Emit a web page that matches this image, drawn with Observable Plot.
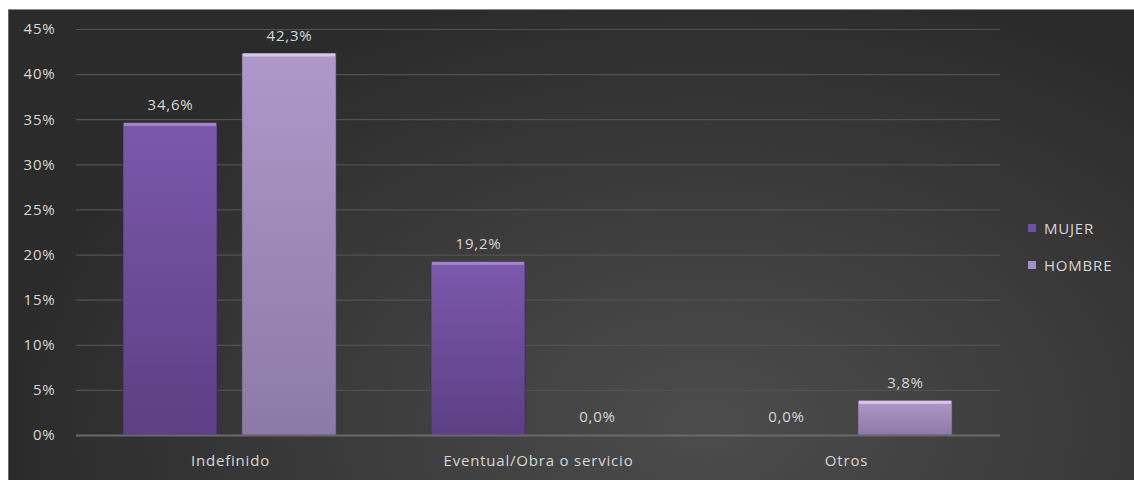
<!DOCTYPE html>
<html>
<head>
<meta charset="utf-8">
<script src="https://cdn.jsdelivr.net/npm/d3@7"></script>
<script src="https://cdn.jsdelivr.net/npm/@observablehq/plot@0.6"></script>
<style>
  html, body { margin: 0; padding: 0; background: #ffffff; }
  #wrap {
    position: absolute; left: 8px; top: 9px; width: 1126px; height: 471px;
    background: radial-gradient(ellipse 62% 95% at 62% 88%, #4c4c4c 0%, #3c3c3c 50%, #2b2b2b 100%);
    border-top: 1px solid #8a8a8a; border-left: 1px solid #6a6a6a; box-sizing: border-box;
    overflow: hidden;
  }
  #chart { position: absolute; left: -1px; top: -1px; }
  #chart svg text { letter-spacing: 0.8px; }
  #legend { position: absolute; left: 1019px; top: 209px; font-family: "Open Sans", sans-serif; font-size: 15px; letter-spacing: 0.8px; color: #d6d6d6; }
  #legend .item { display: flex; align-items: center; height: 18px; margin-bottom: 19px; }
  #legend .sw { width: 8px; height: 8px; margin-right: 8px; }
</style>
</head>
<body>
<div id="wrap"><div id="chart"></div><div id="legend"></div></div>
<script>
const categories = ["Indefinido", "Eventual/Obra o servicio", "Otros"];
const series = ["MUJER", "HOMBRE"];
const mujer = [34.6, 19.2, 0.0];
const hombre = [42.3, 0.0, 3.8];
const yTicks = [0, 5, 10, 15, 20, 25, 30, 35, 40, 45];
const seriesColors = ["#7050a0", "#a48fc2"];

const data = [];
categories.forEach((c, i) => {
  data.push({cat: c, sex: series[0], value: mujer[i]});
  data.push({cat: c, sex: series[1], value: hombre[i]});
});
const fmt = v => v.toFixed(1).replace(".", ",") + "%";

const plot = Plot.plot({
  width: 1126,
  height: 471,
  marginTop: 20,
  marginBottom: 45,
  marginLeft: 67,
  marginRight: 134,
  style: {fontFamily: "'Open Sans', sans-serif", fontSize: "15px", color: "#d6d6d6", background: "transparent", overflow: "visible"},
  fx: {domain: categories, padding: 0, axis: "bottom", tickSize: 0, tickPadding: 20, label: null},
  x: {domain: series, paddingInner: 0.208, paddingOuter: 0.3875, axis: null},
  y: {domain: [0, 45], ticks: yTicks, tickFormat: d => d + "%", tickSize: 0, tickPadding: 21, label: null},
  marks: [
    Plot.ruleY(yTicks.filter(d => d > 0), {stroke: "#525252", strokeWidth: 1.2}),
    Plot.barY(data.filter(d => d.sex === "MUJER"), {fx: "cat", x: "sex", y: "value", fill: "url(#gM)", stroke: "#3a2a52", strokeWidth: 0.6}),
    Plot.barY(data.filter(d => d.sex === "HOMBRE"), {fx: "cat", x: "sex", y: "value", fill: "url(#gH)", stroke: "#5a4d6a", strokeWidth: 0.6}),
    Plot.barY(data.filter(d => d.value > 0), {fx: "cat", x: "sex", y1: d => d.value - 0.35, y2: "value", fill: d => d.sex === "MUJER" ? "#a383d0" : "#d6c6ea", insetLeft: 1, insetRight: 1}),
    Plot.ruleY([0], {stroke: "#6a6a6a", strokeWidth: 2}),
    Plot.text(data, {fx: "cat", x: "sex", y: "value", text: d => fmt(d.value), dy: -18, fill: "#d6d6d6", fontSize: 15}),
  ]
});

const defs = d3.select(plot).insert("defs", ":first-child");
const gM = defs.append("linearGradient").attr("id", "gM").attr("x1", 0).attr("y1", 0).attr("x2", 0).attr("y2", 1);
gM.append("stop").attr("offset", "0%").attr("stop-color", "#7b58ab");
gM.append("stop").attr("offset", "100%").attr("stop-color", "#5c3f84");
const gH = defs.append("linearGradient").attr("id", "gH").attr("x1", 0).attr("y1", 0).attr("x2", 0).attr("y2", 1);
gH.append("stop").attr("offset", "0%").attr("stop-color", "#ae98ca");
gH.append("stop").attr("offset", "100%").attr("stop-color", "#8c7aa6");

document.getElementById("chart").appendChild(plot);

const legend = d3.select("#legend");
series.forEach((s, i) => {
  const it = legend.append("div").attr("class", "item");
  it.append("div").attr("class", "sw").style("background", seriesColors[i]);
  it.append("span").text(s);
});
</script>
</body>
</html>
